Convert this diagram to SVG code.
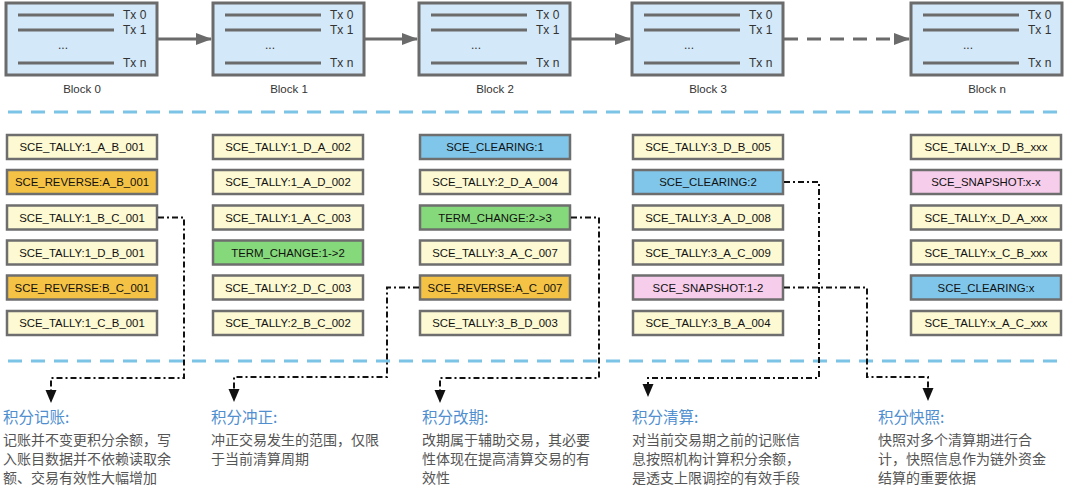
<svg xmlns="http://www.w3.org/2000/svg" width="1080" height="487" viewBox="0 0 1080 487">
<style>
.blk{fill:#d3e8f8;stroke:#6b6b6b;stroke-width:3}
.txl{stroke:#6b6b6b;stroke-width:3}
.t{font-family:"Liberation Sans",Arial,sans-serif;font-size:12px;fill:#333}
.bl{font-family:"Liberation Sans",Arial,sans-serif;font-size:11.5px;fill:#333;text-anchor:middle}
.box{stroke:#6e6e6e;stroke-width:2.5}
.y{fill:#fdf9d3}.o{fill:#f4c244}.g{fill:#85d97a}.b{fill:#7fc6ea}.p{fill:#f6cdeb}
.bt{font-family:"Liberation Sans",Arial,sans-serif;font-size:11.4px;fill:#111;text-anchor:middle}
.sep{stroke:#7cc4e6;stroke-width:3;stroke-dasharray:14 9;fill:none}
.dd{fill:none;stroke:#111;stroke-width:2;stroke-dasharray:6 3 2 3}
.ah{fill:#111}
.h{font-family:"Noto Sans CJK SC","Noto Sans",sans-serif;font-size:15.5px;fill:#4f8fd0}
.d{font-family:"Noto Sans CJK SC","Noto Sans",sans-serif;font-size:14px;fill:#555}
</style>
<defs>
<marker id="ga" markerWidth="16" markerHeight="14" refX="15" refY="7" orient="auto" markerUnits="userSpaceOnUse"><path d="M0,1 L16,7 L0,13 Z" fill="#6b6b6b"/></marker>
<g id="blk"><rect class="blk" x="0" y="0" width="151" height="72"/><line class="txl" x1="12" y1="12" x2="108" y2="12"/><line class="txl" x1="12" y1="27" x2="108" y2="27"/><line class="txl" x1="12" y1="60" x2="108" y2="60"/><text class="t" x="117" y="16">Tx 0</text><text class="t" x="117" y="31">Tx 1</text><text class="t" x="117" y="64">Tx n</text><text class="t" x="52" y="46">...</text></g>
</defs>

<g id="block0"><use href="#blk" x="6" y="3"/><text class="bl" x="82" y="93">Block 0</text></g>
<g id="block1"><use href="#blk" x="213" y="3"/><text class="bl" x="289" y="93">Block 1</text></g>
<g id="block2"><use href="#blk" x="419" y="3"/><text class="bl" x="495" y="93">Block 2</text></g>
<g id="block3"><use href="#blk" x="632" y="3"/><text class="bl" x="708" y="93">Block 3</text></g>
<g id="blockn"><use href="#blk" x="911" y="3"/><text class="bl" x="987" y="93">Block n</text></g>

<g id="separators">
<line class="sep" x1="8" y1="112" x2="1064" y2="112"/>
<line class="sep" x1="8" y1="361" x2="1064" y2="361"/>
</g>

<g id="col0">
<rect class="box y" x="7" y="135" width="150" height="24"/><text class="bt" x="82" y="151">SCE_TALLY:1_A_B_001</text>
<rect class="box o" x="7" y="170" width="150" height="24"/><text class="bt" x="82" y="186">SCE_REVERSE:A_B_001</text>
<rect class="box y" x="7" y="205.5" width="150" height="24"/><text class="bt" x="82" y="221.5">SCE_TALLY:1_B_C_001</text>
<rect class="box y" x="7" y="240.5" width="150" height="24"/><text class="bt" x="82" y="256.5">SCE_TALLY:1_D_B_001</text>
<rect class="box o" x="7" y="275.5" width="150" height="24"/><text class="bt" x="82" y="291.5">SCE_REVERSE:B_C_001</text>
<rect class="box y" x="7" y="311" width="150" height="24"/><text class="bt" x="82" y="327">SCE_TALLY:1_C_B_001</text>
</g>
<g id="col1">
<rect class="box y" x="213" y="135" width="150" height="24"/><text class="bt" x="288" y="151">SCE_TALLY:1_D_A_002</text>
<rect class="box y" x="213" y="170" width="150" height="24"/><text class="bt" x="288" y="186">SCE_TALLY:1_A_D_002</text>
<rect class="box y" x="213" y="205.5" width="150" height="24"/><text class="bt" x="288" y="221.5">SCE_TALLY:1_A_C_003</text>
<rect class="box g" x="213" y="240.5" width="150" height="24"/><text class="bt" x="288" y="256.5">TERM_CHANGE:1-&gt;2</text>
<rect class="box y" x="213" y="275.5" width="150" height="24"/><text class="bt" x="288" y="291.5">SCE_TALLY:2_D_C_003</text>
<rect class="box y" x="213" y="311" width="150" height="24"/><text class="bt" x="288" y="327">SCE_TALLY:2_B_C_002</text>
</g>
<g id="col2">
<rect class="box b" x="420" y="135" width="150" height="24"/><text class="bt" x="495" y="151">SCE_CLEARING:1</text>
<rect class="box y" x="420" y="170" width="150" height="24"/><text class="bt" x="495" y="186">SCE_TALLY:2_D_A_004</text>
<rect class="box g" x="420" y="205.5" width="150" height="24"/><text class="bt" x="495" y="221.5">TERM_CHANGE:2-&gt;3</text>
<rect class="box y" x="420" y="240.5" width="150" height="24"/><text class="bt" x="495" y="256.5">SCE_TALLY:3_A_C_007</text>
<rect class="box o" x="420" y="275.5" width="150" height="24"/><text class="bt" x="495" y="291.5">SCE_REVERSE:A_C_007</text>
<rect class="box y" x="420" y="311" width="150" height="24"/><text class="bt" x="495" y="327">SCE_TALLY:3_B_D_003</text>
</g>
<g id="col3">
<rect class="box y" x="633" y="135" width="150" height="24"/><text class="bt" x="708" y="151">SCE_TALLY:3_D_B_005</text>
<rect class="box b" x="633" y="170" width="150" height="24"/><text class="bt" x="708" y="186">SCE_CLEARING:2</text>
<rect class="box y" x="633" y="205.5" width="150" height="24"/><text class="bt" x="708" y="221.5">SCE_TALLY:3_A_D_008</text>
<rect class="box y" x="633" y="240.5" width="150" height="24"/><text class="bt" x="708" y="256.5">SCE_TALLY:3_A_C_009</text>
<rect class="box p" x="633" y="275.5" width="150" height="24"/><text class="bt" x="708" y="291.5">SCE_SNAPSHOT:1-2</text>
<rect class="box y" x="633" y="311" width="150" height="24"/><text class="bt" x="708" y="327">SCE_TALLY:3_B_A_004</text>
</g>
<g id="col4">
<rect class="box y" x="911" y="135" width="150" height="24"/><text class="bt" x="986" y="151">SCE_TALLY:x_D_B_xxx</text>
<rect class="box p" x="911" y="170" width="150" height="24"/><text class="bt" x="986" y="186">SCE_SNAPSHOT:x-x</text>
<rect class="box y" x="911" y="205.5" width="150" height="24"/><text class="bt" x="986" y="221.5">SCE_TALLY:x_D_A_xxx</text>
<rect class="box y" x="911" y="240.5" width="150" height="24"/><text class="bt" x="986" y="256.5">SCE_TALLY:x_C_B_xxx</text>
<rect class="box b" x="911" y="275.5" width="150" height="24"/><text class="bt" x="986" y="291.5">SCE_CLEARING:x</text>
<rect class="box y" x="911" y="311" width="150" height="24"/><text class="bt" x="986" y="327">SCE_TALLY:x_A_C_xxx</text>
</g>

<g id="connectors">
<line x1="158" y1="39" x2="211" y2="39" stroke="#6b6b6b" stroke-width="3" marker-end="url(#ga)"/>
<line x1="364" y1="39" x2="417" y2="39" stroke="#6b6b6b" stroke-width="3" marker-end="url(#ga)"/>
<line x1="571" y1="39" x2="630" y2="39" stroke="#6b6b6b" stroke-width="3" marker-end="url(#ga)"/>
<line x1="784" y1="39" x2="909" y2="39" stroke="#6b6b6b" stroke-width="3" stroke-dasharray="14 9" marker-end="url(#ga)"/>
<path class="dd" d="M158,217.5 H184 V378 H51 V391"/>
<polygon class="ah" points="45.5,390 56.5,390 51,403"/>
<path class="dd" d="M419,287.5 H387 V377 H234 V390"/>
<polygon class="ah" points="228.5,389 239.5,389 234,402"/>
<path class="dd" d="M571,217.5 H599 V378 H440 V391"/>
<polygon class="ah" points="434.5,390 445.5,390 440,403"/>
<path class="dd" d="M784,182 H819 V378 H648 V385"/>
<polygon class="ah" points="642.5,384 653.5,384 648,397"/>
<path class="dd" d="M784,287.5 H867 V377 H928 V389"/>
<polygon class="ah" points="922.5,388 933.5,388 928,401"/>
</g>

<g id="desc0"><text class="h" x="3" y="423">积分记账:</text><text class="d" x="3" y="445">记账并不变更积分余额，写</text><text class="d" x="3" y="464">入账目数据并不依赖读取余</text><text class="d" x="3" y="483">额、交易有效性大幅增加</text></g>
<g id="desc1"><text class="h" x="211" y="423">积分冲正:</text><text class="d" x="211" y="445">冲正交易发生的范围，仅限</text><text class="d" x="211" y="464">于当前清算周期</text></g>
<g id="desc2"><text class="h" x="422" y="423">积分改期:</text><text class="d" x="422" y="445">改期属于辅助交易，其必要</text><text class="d" x="422" y="464">性体现在提高清算交易的有</text><text class="d" x="422" y="483">效性</text></g>
<g id="desc3"><text class="h" x="632" y="423">积分清算:</text><text class="d" x="632" y="445">对当前交易期之前的记账信</text><text class="d" x="632" y="464">息按照机构计算积分余额，</text><text class="d" x="632" y="483">是透支上限调控的有效手段</text></g>
<g id="desc4"><text class="h" x="878" y="423">积分快照:</text><text class="d" x="878" y="445">快照对多个清算期进行合</text><text class="d" x="878" y="464">计，快照信息作为链外资金</text><text class="d" x="878" y="483">结算的重要依据</text></g>
</svg>
